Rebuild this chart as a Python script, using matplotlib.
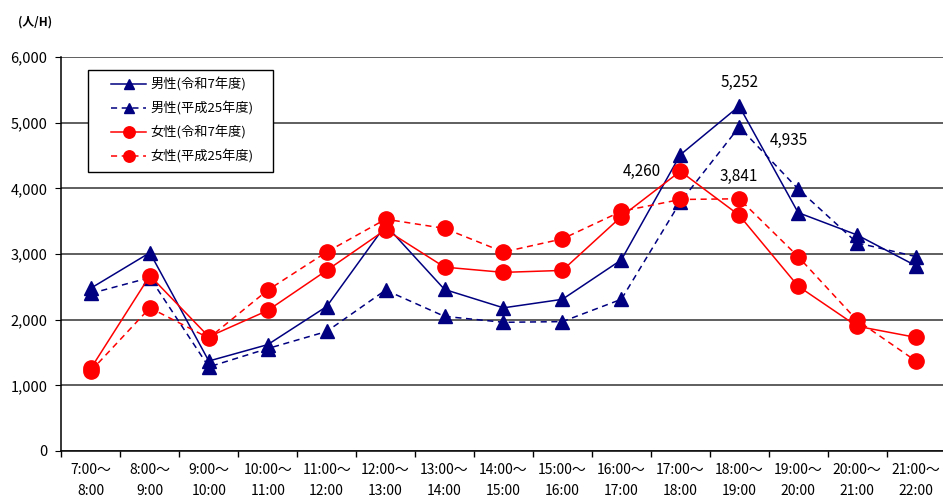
import numpy as np
import matplotlib
matplotlib.use('Agg')
from matplotlib import pyplot as plt
import matplotlib.ticker as ticker
from matplotlib.legend_handler import HandlerLine2D

plt.rcParams['font.family'] = ['Noto Sans CJK JP', 'DejaVu Sans']

hours = ['7:00～\n8:00', '8:00～\n9:00', '9:00～\n10:00', '10:00～\n11:00', '11:00～\n12:00',
         '12:00～\n13:00', '13:00～\n14:00', '14:00～\n15:00', '15:00～\n16:00', '16:00～\n17:00',
         '17:00～\n18:00', '18:00～\n19:00', '19:00～\n20:00', '20:00～\n21:00', '21:00～\n22:00']

male_r7 = [2480, 3020, 1370, 1620, 2200, 3440, 2460, 2180, 2310, 2910, 4510, 5252, 3630, 3290, 2820]
male_h25 = [2400, 2640, 1280, 1560, 1820, 2450, 2050, 1960, 1970, 2310, 3790, 4935, 3990, 3170, 2960]
female_r7 = [1260, 2670, 1740, 2140, 2750, 3370, 2800, 2720, 2750, 3570, 4260, 3590, 2510, 1900, 1730]
female_h25 = [1220, 2180, 1720, 2450, 3030, 3530, 3390, 3030, 3230, 3650, 3830, 3841, 2960, 1990, 1370]

labels = ['男性(令和7年度)', '男性(平成25年度)', '女性(令和7年度)', '女性(平成25年度)']

navy = '#000080'
red = '#FF0000'


def main():
	fig = plt.figure(figsize=(9.43, 4.99), dpi=100)
	ax = fig.add_axes([0.0652, 0.0962, 0.9374, 0.7896])
	x = np.arange(len(hours))

	ax.plot(x, male_r7, color=navy, marker='^', ls='-', lw=1.1, ms=10, label=labels[0])
	ax.plot(x, male_h25, color=navy, marker='^', ls=(0, (4, 3)), lw=1.1, ms=10, label=labels[1])
	ax.plot(x, female_r7, color=red, marker='o', ls='-', lw=1.1, ms=11, label=labels[2])
	ax.plot(x, female_h25, color=red, marker='o', ls=(0, (4, 3)), lw=1.1, ms=11, label=labels[3])

	# value callouts
	ax.annotate(f'{male_r7[11]:,}', (11, male_r7[11]), xytext=(0, 11), textcoords='offset points',
		ha='center', va='bottom', fontsize=11)
	ax.annotate(f'{male_h25[11]:,}', (11, male_h25[11]), xytext=(36, -10), textcoords='offset points',
		ha='center', va='center', fontsize=11)
	ax.annotate(f'{female_r7[10]:,}', (10, female_r7[10]), xytext=(-28, 0), textcoords='offset points',
		ha='center', va='center', fontsize=11)
	ax.annotate(f'{female_h25[11]:,}', (11, female_h25[11]), xytext=(0, 16), textcoords='offset points',
		ha='center', va='center', fontsize=11)

	ax.set_xlim(-0.5, len(hours) - 0.5)
	ax.set_ylim(0, 6000)
	ax.set_xticks(x)
	ax.set_xticklabels(hours, fontsize=10, linespacing=1.6)
	ax.xaxis.set_minor_locator(ticker.FixedLocator(np.arange(len(hours) + 1) - 0.5))
	ax.tick_params(axis='x', which='major', length=0, pad=9)
	ax.tick_params(axis='x', which='minor', length=4, direction='out', width=1)
	ax.set_yticks(np.arange(0, 6001, 1000))
	ax.yaxis.set_major_formatter(ticker.FuncFormatter(lambda v, p: f'{int(v):,}'))
	ax.tick_params(axis='y', length=4, direction='out', labelsize=10.5, pad=6)

	ax.set_axisbelow(True)
	ax.grid(axis='y', color='#333333', linewidth=1.1)
	for s in ['top', 'right']:
		ax.spines[s].set_visible(False)
	ax.spines['left'].set_linewidth(1.1)
	ax.spines['bottom'].set_linewidth(1.1)

	fig.text(35 / 943, 1 - 22 / 499, '(人/H)', fontsize=8.5, ha='center', va='center', fontweight='bold')

	# legend box: left pad before handles like the original
	legend = ax.legend(loc='upper left', bbox_to_anchor=(88 / 943, 0.5, 185 / 943, 1 - 70 / 499 - 0.5),
		bbox_transform=fig.transFigure, mode='expand', borderaxespad=0, fontsize=9.5,
		handlelength=3.8, handletextpad=0.3, markerscale=0.75,
		handler_map={plt.Line2D: HandlerLine2D(xpad=1.15)},
		fancybox=False, framealpha=1, edgecolor='black', labelspacing=0.75, borderpad=0.6)
	legend.get_frame().set_linewidth(1.0)

	fig.savefig('out.png', dpi=100)


if __name__ == '__main__':
	main()
